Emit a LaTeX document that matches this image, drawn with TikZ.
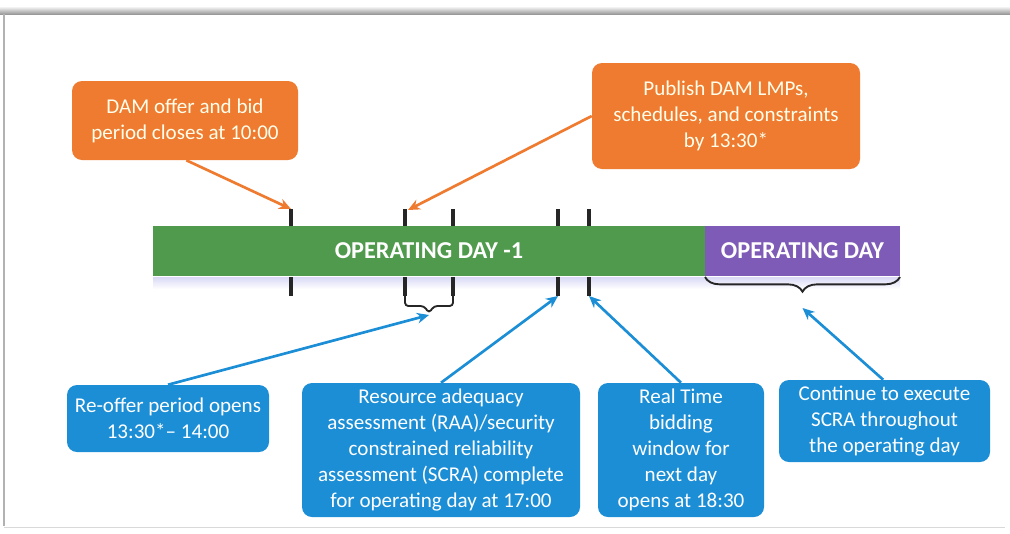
\documentclass[tikz,border=0pt]{standalone}
\usepackage{fontspec}
\setmainfont{Carlito}
\usetikzlibrary{arrows.meta,decorations.pathreplacing}
\definecolor{dayGreen}{HTML}{4F9A4C}
\definecolor{dayPurple}{HTML}{7E5BB6}
\definecolor{noteOrange}{HTML}{EE7B30}
\definecolor{noteBlue}{HTML}{1B8ED6}
\tikzset{
  note/.style={rounded corners=7.5pt, text=white, align=center, inner sep=0pt,
    font=\fontsize{15.8}{19.5}\selectfont},
  orangenote/.style={note, fill=noteOrange, text=white!92!yellow},
  bluenote/.style={note, fill=noteBlue},
  daybar/.style={inner sep=0pt, minimum height=37.5pt, text=white,
    font=\fontsize{18.2}{20}\selectfont\bfseries},
  tick/.style={line width=3.2pt, black!85},
  orangearrow/.style={draw=noteOrange, line width=2pt,
    -{Stealth[length=9pt,width=8pt]}},
  bluearrow/.style={draw=noteBlue, line width=2pt,
    -{Stealth[length=9pt,width=8pt]}},
}
\begin{document}
\begin{tikzpicture}[x=0.75pt,y=-0.75pt]
\useasboundingbox (0,0) rectangle (1010,533);
% page edge
\shade[top color=white, bottom color=black!40] (0,6) rectangle (1010,14);
\draw[black!30, line width=0.8pt] (4,14) -- (4,526);
\draw[black!15, line width=0.6pt] (4,527) -- (1005,527);

% soft reflection under the timeline
\shade[top color=black!25!blue!15, bottom color=white] (153,277) rectangle (900,289);

% timeline bars
\node[daybar, fill=dayGreen, minimum width=414pt] (dayminus) at (429,251) {OPERATING DAY -1};
\node[daybar, fill=dayPurple, minimum width=146.25pt] (opday) at (802.5,251) {OPERATING DAY};

% time marks
\foreach \n/\x in {t1/291, t2/405, t3/453, t4/558, t5/589}{
  \draw[tick] (\x,209) -- (\x,226);
  \draw[tick] (\x,277) -- (\x,296);
  \coordinate (\n top) at (\x,209);
  \coordinate (\n bot) at (\x,296);
}

% bracket for the re-offer window
\draw[black!85, line width=1.4pt, rounded corners=2.5pt]
  (405,294) -- (405,306) -- (424,306) -- (429,313) -- (434,306) -- (453,306) -- (453,294);
\coordinate (reofftip) at (429,315);

% brace over the operating day
\draw[black!85, line width=1.4pt, decorate,
  decoration={brace, amplitude=11pt, aspect=0.5}]
  (900,277) -- (705,277);
\coordinate (opdaytip) at (802.5,308);

% callouts above
\node[orangenote, minimum width=169.5pt, minimum height=59.25pt] (close) at (185,120.5)
  {DAM offer and bid\\period closes at 10:00};
\node[orangenote, minimum width=201pt, minimum height=79.5pt] (publish) at (726,116)
  {Publish DAM LMPs,\\schedules, and constraints\\by 13:30*};

% callouts below
\node[bluenote, minimum width=151.5pt, minimum height=50.25pt] (reoffer) at (168,418.5)
  {Re-offer period opens\\13:30*-- 14:00};
\node[bluenote, minimum width=208.5pt, minimum height=100.5pt] (raa) at (441,450)
  {Resource adequacy\\assessment (RAA)/security\\constrained reliability\\assessment (SCRA) complete\\for operating day at 17:00};
\node[bluenote, minimum width=124.5pt, minimum height=100.5pt] (rt) at (681,450)
  {Real Time\\bidding\\window for\\next day\\opens at 18:30};
\node[bluenote, minimum width=158.25pt, minimum height=61.5pt] (scra) at (884.5,421)
  {Continue to execute\\SCRA throughout\\the operating day};

% connectors
\draw[orangearrow] ([xshift=1]close.south) -- (t1top);
\draw[orangearrow] (publish.west) -- ([shift={(3,1)}]t2top);
\draw[bluearrow] (reoffer.north) -- (reofftip);
\draw[bluearrow] (raa.north) -- (t4bot);
\draw[bluearrow] (rt.north) -- (t5bot);
\draw[bluearrow] ([xshift=-1]scra.north) -- (opdaytip);
\end{tikzpicture}
\end{document}
